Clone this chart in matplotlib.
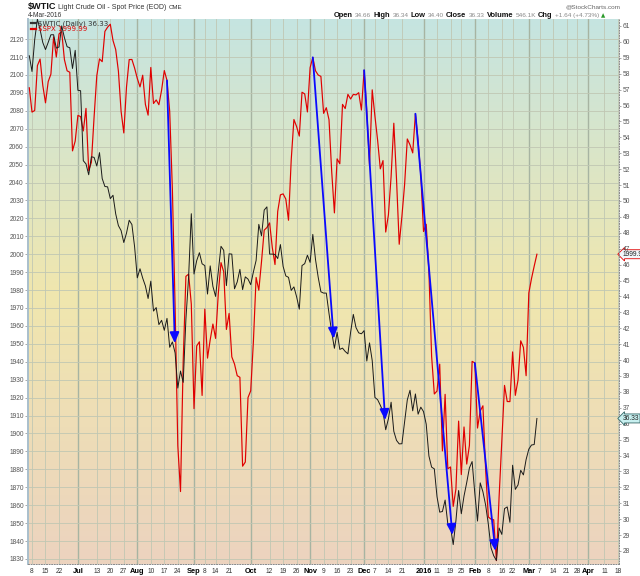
"""
$WTIC vs $SPX daily chart, June 2015 - March 2016, StockCharts style.

Two price series on a shared trading-day axis: S&P 500 on the left scale,
WTI crude on the right scale, with blue arrows marking where a stock-market
top was followed by an oil low.
"""
import matplotlib
matplotlib.use("Agg")
import matplotlib.pyplot as plt
import numpy as np
import pandas as pd
from matplotlib.colors import to_rgb
from matplotlib.lines import Line2D
from matplotlib.transforms import blended_transform_factory

plt.rcParams["font.family"] = ["Liberation Sans", "DejaVu Sans"]

W, H = 640, 576

# ---------------------------------------------------------------------------
# Data
# ---------------------------------------------------------------------------

FIRST_DAY = "2015-06-05"
LAST_AXIS_DAY = "2016-04-18"
HOLIDAYS = ["2015-07-03", "2015-09-07", "2015-11-26", "2015-12-25",
            "2016-01-01", "2016-01-18", "2016-02-15", "2016-03-25"]

# S&P 500 closes, one list per month
spx_jun = [2092.83, 2079.28, 2080.15, 2105.20, 2108.86, 2094.11, 2084.43, 2096.29,
           2100.44, 2121.24, 2109.99, 2122.85, 2124.20, 2108.58, 2102.31, 2101.49,
           2057.64, 2063.11]
spx_jul = [2077.42, 2076.78, 2068.76, 2081.34, 2046.68, 2051.31, 2076.62, 2099.60,
           2108.95, 2107.40, 2124.29, 2126.64, 2128.28, 2119.21, 2114.15, 2102.15,
           2079.65, 2067.64, 2093.25, 2108.57, 2108.63, 2103.84]
spx_aug = [2098.04, 2093.32, 2099.84, 2083.56, 2077.57, 2104.18, 2084.07, 2086.05,
           2083.39, 2091.54, 2102.44, 2096.92, 2079.61, 2035.73, 1970.89, 1893.21,
           1867.61, 1940.51, 1987.66, 1988.87, 1972.18]
spx_sep = [1913.85, 1948.86, 1951.13, 1921.22, 1969.41, 1942.04, 1952.29, 1961.05,
           1953.03, 1978.09, 1995.31, 1990.20, 1958.03, 1966.97, 1942.74, 1938.76,
           1932.24, 1931.34, 1881.77, 1884.09, 1920.03]
spx_oct = [1923.82, 1951.36, 1987.05, 1979.92, 1995.83, 2013.43, 2014.89, 2017.46,
           2003.69, 1994.24, 2023.86, 2033.11, 2033.66, 2030.77, 2018.94, 2052.51,
           2075.15, 2071.18, 2065.89, 2090.35, 2089.41, 2079.36]
spx_nov = [2104.05, 2109.79, 2102.31, 2099.93, 2099.20, 2078.58, 2081.72, 2075.00,
           2045.97, 2023.04, 2053.19, 2050.44, 2083.58, 2081.24, 2089.17, 2086.59,
           2089.14, 2088.87, 2090.11, 2080.41]
spx_dec = [2102.63, 2079.51, 2049.62, 2091.69, 2077.07, 2063.59, 2047.62, 2052.23,
           2012.37, 2021.94, 2043.41, 2073.07, 2041.89, 2005.55, 2021.15, 2038.97,
           2064.29, 2060.99, 2056.50, 2078.36, 2063.36, 2043.94]
spx_jan = [2012.66, 2016.71, 1990.26, 1943.09, 1922.03, 1923.67, 1938.68, 1890.28,
           1921.84, 1880.33, 1881.33, 1859.33, 1868.99, 1906.90, 1877.08, 1903.63,
           1882.95, 1893.36, 1940.24]
spx_feb = [1939.38, 1903.03, 1912.53, 1915.45, 1880.05, 1853.44, 1852.21, 1851.86,
           1829.08, 1864.78, 1895.58, 1926.82, 1917.83, 1917.78, 1945.50, 1921.27,
           1929.80, 1951.70, 1948.05, 1932.23]
spx_mar = [1978.35, 1986.45, 1993.40, 1999.99]

# WTI crude closes, one list per month
wti_jun = [59.13, 58.14, 60.14, 61.43, 60.77, 59.96, 59.52, 59.97, 60.45, 60.45,
           59.61, 59.68, 61.01, 60.27, 59.70, 59.63, 58.33, 59.47]
wti_jul = [56.96, 56.93, 52.53, 52.33, 51.65, 52.78, 52.74, 52.20, 53.04, 51.41,
           50.91, 50.89, 50.15, 50.36, 49.19, 48.45, 48.14, 47.39, 47.98, 48.79,
           48.52, 47.12]
wti_aug = [45.17, 45.74, 45.15, 44.66, 43.87, 44.96, 43.08, 43.30, 42.23, 42.50,
           41.87, 42.62, 40.80, 41.14, 40.45, 38.24, 39.31, 38.60, 42.56, 45.22,
           49.20]
wti_sep = [45.41, 46.25, 46.75, 46.05, 45.94, 44.15, 45.92, 44.63, 44.00, 45.59,
           47.15, 46.90, 44.68, 46.68, 46.66, 44.48, 44.91, 45.70, 44.43, 45.23,
           45.09]
wti_oct = [44.74, 45.54, 46.26, 48.53, 47.81, 49.43, 49.63, 46.66, 46.66, 46.64,
           46.38, 47.26, 45.89, 45.29, 45.20, 44.38, 44.60, 43.98, 43.20, 45.94,
           46.06, 46.59]
wti_nov = [46.14, 47.90, 46.32, 45.20, 44.29, 44.21, 44.21, 42.93, 41.75, 40.74,
           41.74, 40.67, 40.75, 40.54, 40.39, 41.75, 42.87, 42.04, 41.71, 41.65]
wti_dec = [41.85, 39.94, 41.08, 39.97, 37.65, 37.51, 37.16, 36.76, 35.62, 36.31,
           37.35, 35.52, 34.95, 34.73, 34.74, 36.14, 37.50, 38.10, 36.81, 37.87,
           36.60, 37.04]
wti_jan = [36.76, 35.97, 33.97, 33.27, 33.16, 31.41, 30.44, 30.48, 31.20, 29.70,
           29.50, 28.40, 29.90, 31.80, 30.34, 31.45, 32.30, 33.22, 33.62]
wti_feb = [31.62, 29.88, 32.28, 31.72, 30.89, 29.69, 28.20, 27.70, 27.40, 29.44,
           29.04, 30.66, 30.77, 29.80, 33.39, 31.87, 32.15, 33.07, 32.78, 33.75]
wti_mar = [34.40, 34.66, 34.69, 36.33]

TICK_DATES = ["2015-06-08", "2015-06-15", "2015-06-22", "2015-07-01", "2015-07-13",
              "2015-07-20", "2015-07-27", "2015-08-03", "2015-08-10", "2015-08-17",
              "2015-08-24", "2015-09-01", "2015-09-08", "2015-09-14", "2015-09-21",
              "2015-10-01", "2015-10-12", "2015-10-19", "2015-10-26", "2015-11-02",
              "2015-11-09", "2015-11-16", "2015-11-23", "2015-12-01", "2015-12-07",
              "2015-12-14", "2015-12-21", "2016-01-04", "2016-01-11", "2016-01-19",
              "2016-01-25", "2016-02-01", "2016-02-08", "2016-02-16", "2016-02-22",
              "2016-03-01", "2016-03-07", "2016-03-14", "2016-03-21", "2016-03-28",
              "2016-04-01", "2016-04-11", "2016-04-18"]
TICK_LABELS = ["8", "15", "22", "Jul", "13", "20", "27", "Aug", "10", "17", "24",
               "Sep", "8", "14", "21", "Oct", "12", "19", "26", "Nov", "9", "16", "23",
               "Dec", "7", "14", "21", "2016", "11", "19", "25", "Feb", "8", "16", "22",
               "Mar", "7", "14", "21", "28", "Apr", "11", "18"]
MONTH_LABELS = {"Jul", "Aug", "Sep", "Oct", "Nov", "Dec", "2016", "Feb", "Mar", "Apr"}

# (SPX top date, oil low date)
ARROWS = [("2015-08-18", "2015-08-21"),
          ("2015-11-03", "2015-11-13"),
          ("2015-12-01", "2015-12-11"),
          ("2015-12-29", "2016-01-20"),
          ("2016-02-01", "2016-02-11")]

QUOTE = [("Open", "34.66"), ("High", "36.34"), ("Low", "34.40"), ("Close", "36.33"),
         ("Volume", "546.1K"), ("Chg", "+1.64 (+4.73%)")]

SPX_YLIM = (1827.2, 2131.2)
WTI_YLIM = (27.18, 61.44)

BG_STOPS = [(0.00, "#c5e4e1"), (0.50, "#f0e7ae"), (1.00, "#ecd3bf")]


# ---------------------------------------------------------------------------
# Helpers
# ---------------------------------------------------------------------------

def trading_days() -> pd.DatetimeIndex:
    days = pd.bdate_range(FIRST_DAY, LAST_AXIS_DAY)
    return days[~days.isin(pd.to_datetime(HOLIDAYS))]


def gradient() -> np.ndarray:
    t = np.linspace(0, 1, 256)
    pos = [p for p, _ in BG_STOPS]
    cols = np.array([to_rgb(c) for _, c in BG_STOPS])
    rgb = np.stack([np.interp(t, pos, cols[:, k]) for k in range(3)], axis=1)
    return rgb[:, None, :]


def fig_xy(fig, x_px, y_px):
    return x_px / W, 1 - y_px / H


def text_run(fig, x_px, y_px, runs, gap=2.0):
    """Write pieces of text left to right, returns the end x in pixels."""
    renderer = fig.canvas.get_renderer()
    for s, kw in runs:
        t = fig.text(*fig_xy(fig, x_px, y_px), s, va="baseline", ha="left", **kw)
        x_px += t.get_window_extent(renderer).width + gap
    return x_px


# ---------------------------------------------------------------------------
# Plot
# ---------------------------------------------------------------------------

def main() -> None:
    days = trading_days()
    pos = {d: i for i, d in enumerate(days)}

    spx = np.array(spx_jun + spx_jul + spx_aug + spx_sep + spx_oct + spx_nov
                   + spx_dec + spx_jan + spx_feb + spx_mar)
    wti = np.array(wti_jun + wti_jul + wti_aug + wti_sep + wti_oct + wti_nov
                   + wti_dec + wti_jan + wti_feb + wti_mar)
    x = np.arange(len(spx))

    fig = plt.figure(figsize=(W / 100, H / 100), dpi=100)
    fig.patch.set_facecolor("white")
    ax = fig.add_axes([28 / W, 12 / H, 591 / W, 545 / H])
    ax.imshow(gradient(), extent=(0, 1, 0, 1), transform=ax.transAxes,
              aspect="auto", zorder=0, interpolation="bilinear")
    ax.set_autoscale_on(False)
    ax.set_xlim(-0.48, 218.4)
    ax.set_ylim(*SPX_YLIM)

    # grid
    tick_pos = [pos[pd.Timestamp(d)] for d in TICK_DATES]
    for p, lab in zip(tick_pos, TICK_LABELS):
        month = lab in MONTH_LABELS
        ax.axvline(p, color="#a7b4a2" if month else "#c0c7b3",
                   lw=1.0 if month else 0.6, zorder=1)
    spx_ticks = np.arange(1830, 2121, 10)
    for v in spx_ticks:
        ax.axhline(v, color="#c0c7b3", lw=0.6, zorder=1)

    # left axis
    ax.set_yticks(spx_ticks)
    ax.set_yticklabels([str(v) for v in spx_ticks])
    ax.tick_params(axis="y", labelsize=4.8, labelcolor="#555555", length=2,
                   width=0.5, color="#888888", pad=1)
    ax.set_xticks(tick_pos)
    ax.set_xticklabels(TICK_LABELS)
    ax.tick_params(axis="x", length=0, pad=3, labelsize=4.8, labelcolor="#333333")
    for lab in ax.get_xticklabels():
        if lab.get_text() in MONTH_LABELS:
            lab.set_fontweight("bold")
            lab.set_fontsize(5.3)
            lab.set_color("black")

    ax.spines["top"].set_visible(False)
    ax.spines["left"].set_color("#a9bfcc")
    ax.spines["left"].set_linewidth(1.4)
    ax.spines["bottom"].set_linestyle(":")
    ax.spines["bottom"].set_color("#888888")
    ax.spines["bottom"].set_linewidth(0.7)
    ax.spines["right"].set_visible(False)

    ax.plot(x, spx, color="#e00000", lw=0.85, zorder=3)

    # right axis
    ax2 = ax.twinx()
    ax2.set_ylim(*WTI_YLIM)
    wti_ticks = np.arange(28, 62)
    ax2.set_yticks(wti_ticks)
    ax2.set_yticklabels([str(v) for v in wti_ticks])
    ax2.tick_params(axis="y", labelsize=4.8, labelcolor="#555555", length=1.5,
                    width=0.5, color="#888888", pad=1)
    for side in ("top", "left", "bottom"):
        ax2.spines[side].set_visible(False)
    ax2.spines["right"].set_linestyle(":")
    ax2.spines["right"].set_color("#888888")
    ax2.spines["right"].set_linewidth(0.7)

    ax2.plot(x, wti, color="#1a1a1a", lw=0.7, zorder=3)

    # arrows: SPX top -> oil low
    for top, low in ARROWS:
        i0, i1 = pos[pd.Timestamp(top)], pos[pd.Timestamp(low)]
        ax2.annotate("", xy=(i1, wti[i1]), xycoords="data",
                     xytext=(i0, spx[i0]), textcoords=ax.transData,
                     arrowprops=dict(arrowstyle="-|>,head_length=0.8,head_width=0.35",
                                     color="#0a0aff", lw=1.3, mutation_scale=8,
                                     shrinkA=0, shrinkB=7),
                     zorder=5)

    # last-value tags on the right edge
    bt = blended_transform_factory(ax.transAxes, ax.transData)
    ax.text(1.006, spx[-1], f"{spx[-1]:.2f}", transform=bt, fontsize=4.8,
            va="center", ha="left", color="#222222", clip_on=False, zorder=6,
            bbox=dict(boxstyle="larrow,pad=0.15", fc="#f2f8fb", ec="#e00000", lw=0.6))
    bt2 = blended_transform_factory(ax2.transAxes, ax2.transData)
    ax2.text(1.006, wti[-1], f"{wti[-1]:.2f}", transform=bt2, fontsize=4.8,
             va="center", ha="left", color="#222222", clip_on=False, zorder=6,
             bbox=dict(boxstyle="larrow,pad=0.15", fc="#c8f0f0", ec="#336666", lw=0.6))

    # legend
    fig.add_artist(Line2D([31 / W, 36 / W], [1 - 23 / H] * 2, color="#333333", lw=1.6))
    fig.text(*fig_xy(fig, 38, 25.3), f"$WTIC (Daily) {wti[-1]:.2f}", fontsize=5.0,
             family="DejaVu Sans", color="#333333", va="baseline")
    fig.add_artist(Line2D([31 / W, 36 / W], [1 - 28.8 / H] * 2, color="#e00000", lw=1.6))
    fig.text(*fig_xy(fig, 38, 31), f"$SPX {spx[-1]:.2f}", fontsize=5.0,
             family="DejaVu Sans", color="#e00000", va="baseline")

    # header
    text_run(fig, 28, 9.2, [
        ("$WTIC", dict(fontsize=6.6, fontweight="bold", color="#111111")),
        ("Light Crude Oil - Spot Price (EOD)", dict(fontsize=5.0, color="#333333")),
        ("CME", dict(fontsize=4.4, color="#333333")),
    ])
    fig.text(*fig_xy(fig, 28, 16.8), "4-Mar-2016", fontsize=4.8, color="#333333",
             va="baseline")
    fig.text(*fig_xy(fig, 620, 8.3), "@StockCharts.com", fontsize=4.6,
             color="#666666", va="baseline", ha="right")
    runs = []
    for name, val in QUOTE:
        runs.append((name, dict(fontsize=5.4, fontweight="bold", color="#111111")))
        runs.append((val, dict(fontsize=4.6, color="#888888")))
    runs.append(("\u25b2", dict(fontsize=4.0, color="#2a9a2a", family="DejaVu Sans")))
    text_run(fig, 334, 17.3, runs, gap=2.2)

    fig.savefig("out.png", dpi=100)
    plt.close(fig)


if __name__ == "__main__":
    main()
